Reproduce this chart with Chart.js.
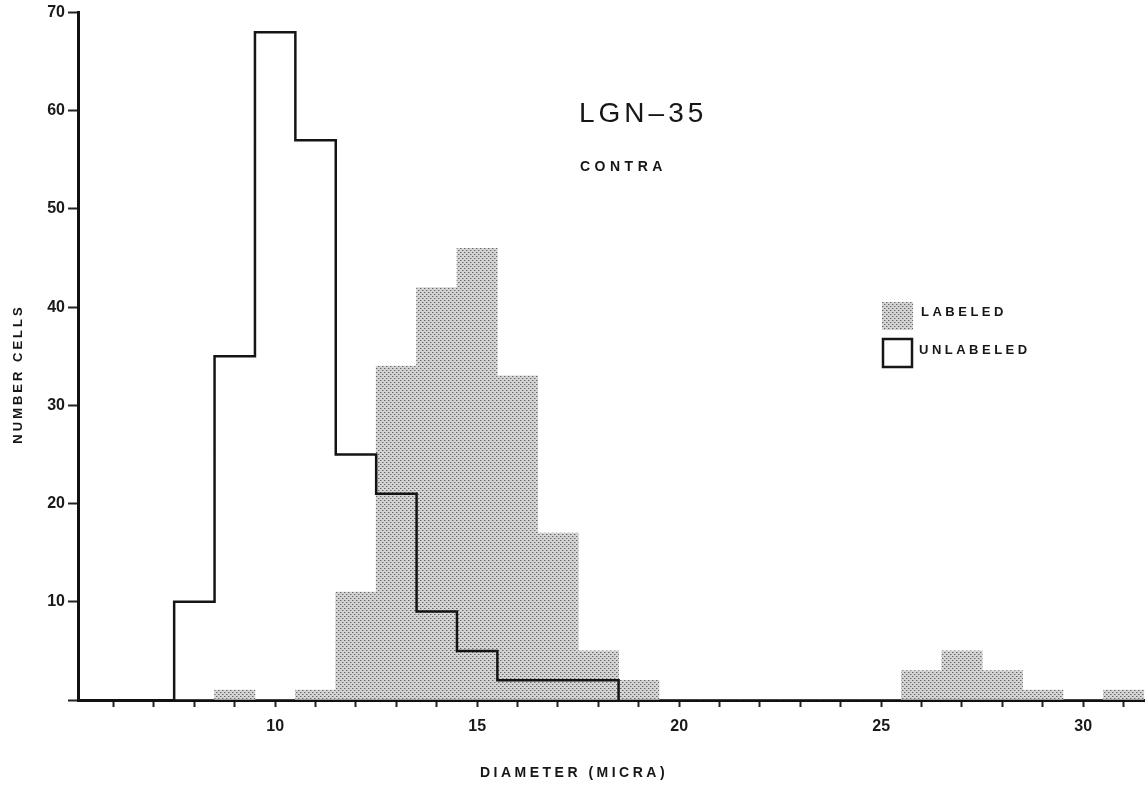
<!DOCTYPE html>
<html lang="en">
<head>
    <meta charset="UTF-8">
    <title>LGN-35 contra</title>
    <style>
        body {
            margin: 0;
            padding: 0;
            background-color: #fff;
        }
        canvas {
            display: block;
        }
    </style>
    <script src="https://cdn.jsdelivr.net/npm/chart.js"></script>
</head>
<body>
    <canvas id="histChart" width="1145" height="786"></canvas>

    <script>
        // bin centres (micra), one bin per micron
        const diameters = [8, 9, 10, 11, 12, 13, 14, 15, 16, 17, 18, 19, 20, 21, 22, 23, 24, 25, 26, 27, 28, 29, 30, 31];
        const labeled   = [0, 1, 0, 1, 11, 34, 42, 46, 33, 17, 5, 2, 0, 0, 0, 0, 0, 0, 3, 5, 3, 1, 0, 1];
        const unlabeled = [10, 35, 68, 57, 25, 21, 9, 5, 2, 2, 2, 0, 0, 0, 0, 0, 0, 0, 0, 0, 0, 0, 0, 0];
        const xLabelTicks = [10, 15, 20, 25, 30];
        const yTicks = [10, 20, 30, 40, 50, 60, 70];

        // dotted halftone fill like the printed figure
        function dotPattern() {
            const c = document.createElement('canvas');
            c.width = 4;
            c.height = 4;
            const g = c.getContext('2d');
            g.fillStyle = '#d4d4d4';
            g.fillRect(0, 0, 4, 4);
            g.fillStyle = '#666';
            g.fillRect(0, 0, 1, 1);
            g.fillRect(2, 2, 1, 1);
            g.fillStyle = '#a4a4a4';
            g.fillRect(1, 0, 1, 1);
            g.fillRect(3, 2, 1, 1);
            return g.createPattern(c, 'repeat');
        }
        const dots = dotPattern();

        // outline of the unlabeled histogram, corners at the bin edges
        let lastBin = 0;
        unlabeled.forEach((v, i) => { if (v > 0) lastBin = i; });
        const stepPoints = [{ x: diameters[0] - 0.5, y: 0 }];
        for (let i = 0; i <= lastBin; i++) {
            stepPoints.push({ x: diameters[i] - 0.5, y: unlabeled[i] });
            stepPoints.push({ x: diameters[i] + 0.5, y: unlabeled[i] });
        }
        stepPoints.push({ x: diameters[lastBin] + 0.5, y: 0 });

        const textPlugin = {
            id: 'figureText',
            afterDraw(chart) {
                const ctx = chart.ctx;
                ctx.save();
                ctx.fillStyle = '#161616';
                ctx.textBaseline = 'middle';
                ctx.textAlign = 'left';

                ctx.font = '28px "Liberation Sans", Arial, sans-serif';
                ctx.letterSpacing = '4px';
                ctx.fillText('LGN\u201335', 579, 114);

                ctx.font = 'bold 14px "Liberation Sans", Arial, sans-serif';
                ctx.letterSpacing = '4.5px';
                ctx.fillText('CONTRA', 580, 167);

                // legend
                ctx.fillStyle = dots;
                ctx.fillRect(882, 302, 31, 28);
                ctx.strokeStyle = '#161616';
                ctx.lineWidth = 2.5;
                ctx.strokeRect(883, 339, 29, 28);
                ctx.fillStyle = '#161616';
                ctx.font = 'bold 13px "Liberation Sans", Arial, sans-serif';
                ctx.letterSpacing = '3.5px';
                ctx.fillText('LABELED', 921, 312);
                ctx.fillText('UNLABELED', 919, 350);

                // axis titles
                ctx.textAlign = 'center';
                ctx.font = 'bold 14px "Liberation Sans", Arial, sans-serif';
                ctx.letterSpacing = '3.5px';
                ctx.fillText('DIAMETER (MICRA)', 574, 773);
                ctx.font = 'bold 13px "Liberation Sans", Arial, sans-serif';
                ctx.letterSpacing = '3px';
                ctx.translate(18, 374);
                ctx.rotate(-Math.PI / 2);
                ctx.fillText('NUMBER CELLS', 0, 0);
                ctx.restore();
            }
        };

        new Chart(document.getElementById('histChart'), {
            type: 'bar',
            data: {
                datasets: [
                    {
                        type: 'line',
                        label: 'UNLABELED',
                        data: stepPoints,
                        borderColor: '#141414',
                        borderWidth: 2.5,
                        pointRadius: 0,
                        fill: false,
                        tension: 0,
                        order: 0
                    },
                    {
                        label: 'LABELED',
                        data: diameters.map((d, i) => ({ x: d, y: labeled[i] })),
                        backgroundColor: dots,
                        borderWidth: 0,
                        barPercentage: 1,
                        categoryPercentage: 1,
                        order: 1
                    }
                ]
            },
            options: {
                responsive: false,
                animation: false,
                layout: { padding: { top: 10, right: 0, left: 0, bottom: 0 } },
                plugins: {
                    legend: { display: false },
                    tooltip: { enabled: false }
                },
                scales: {
                    x: {
                        type: 'linear',
                        offset: false,
                        min: 5.12,
                        max: 31.53,
                        afterFit(scale) { scale.height = 86; },
                        border: { color: '#111', width: 3 },
                        grid: {
                            offset: false,
                            drawOnChartArea: false,
                            drawTicks: true,
                            tickLength: 7,
                            tickWidth: 2,
                            color: '#222'
                        },
                        ticks: {
                            stepSize: 1,
                            includeBounds: false,
                            autoSkip: false,
                            maxRotation: 0,
                            padding: 10,
                            color: '#1a1a1a',
                            font: { family: '"Liberation Sans", Arial, sans-serif', size: 16, weight: 'bold' },
                            callback: v => xLabelTicks.includes(v) ? String(v) : ''
                        }
                    },
                    y: {
                        min: 0,
                        max: 70,
                        afterFit(scale) { scale.width = 78; },
                        border: { color: '#111', width: 3 },
                        grid: {
                            drawOnChartArea: false,
                            drawTicks: true,
                            tickLength: 10,
                            tickWidth: 2,
                            color: '#222'
                        },
                        ticks: {
                            stepSize: 10,
                            padding: 3,
                            color: '#1a1a1a',
                            font: { family: '"Liberation Sans", Arial, sans-serif', size: 16, weight: 'bold' },
                            callback: v => yTicks.includes(v) ? String(v) : ''
                        }
                    }
                }
            },
            plugins: [textPlugin]
        });
    </script>
</body>
</html>
